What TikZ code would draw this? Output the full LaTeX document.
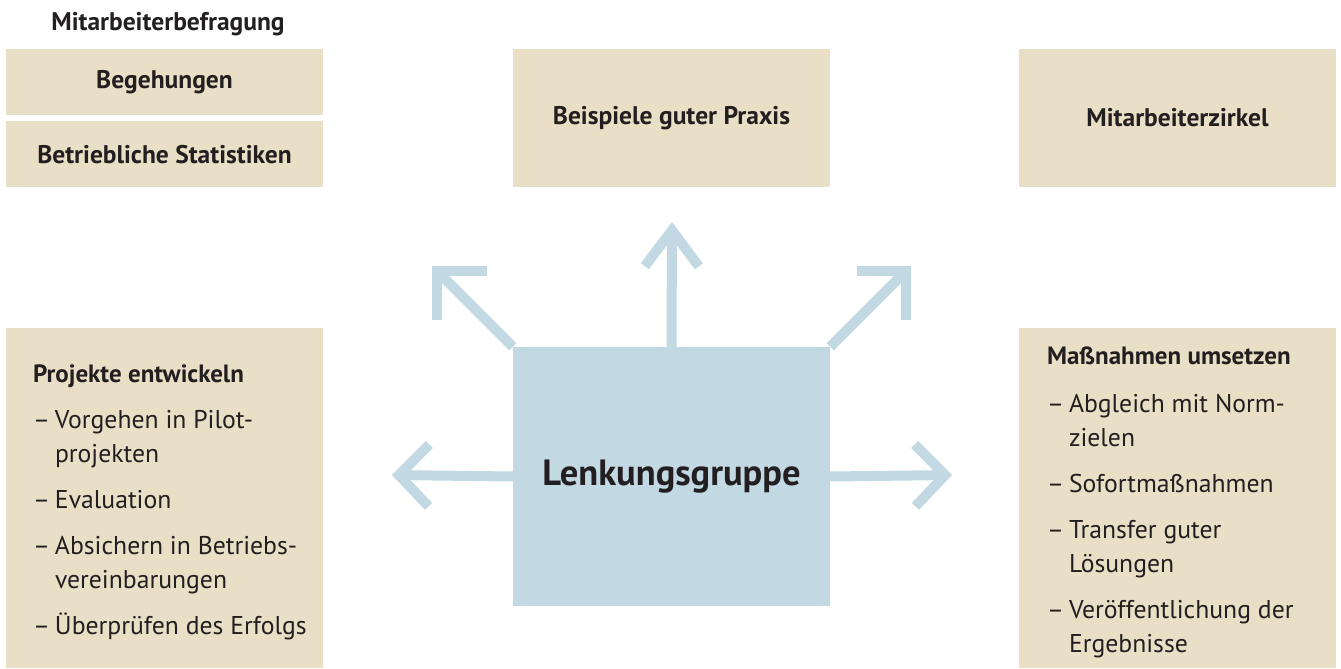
\documentclass[tikz,border=0pt]{standalone}
\usepackage{fontspec}
\setmainfont{PT Sans}
\usetikzlibrary{arrows.meta,positioning}

\definecolor{beige}{RGB}{232,223,198}
\definecolor{paleblue}{RGB}{194,217,228}
\definecolor{ink}{RGB}{35,31,32}

\newcommand{\dashitem}{\makebox[22pt][l]{\textendash}}
\newcommand{\hangin}{\hspace*{22pt}}

\begin{document}
\begin{tikzpicture}[x=1pt,y=1pt,
    box/.style={fill=beige,minimum width=317pt,inner sep=0pt,text=ink,
      font=\bfseries\fontsize{25.5}{30}\selectfont},
    listtext/.style={anchor=west,inner sep=0pt,align=left,text=ink,
      font=\fontsize{25.7}{34}\selectfont},
    spoke/.style 2 args={draw=paleblue,line width=10pt,line join=miter,
      -{Straight Barb[length=#1,width=#2]}}]

    \useasboundingbox (0,0) rectangle (1341,669);

    % top row
    \node[font=\bfseries\fontsize{25.5}{30}\selectfont,text=ink] (befr) at (168,645) {Mitarbeiterbefragung};
    \node[box,minimum height=66pt] (beg) at (164.5,587) {Begehungen};
    \node[box,minimum height=66pt] (stat) [below=6pt of beg] {Betriebliche Statistiken};
    \node[box,minimum height=138pt] (praxis) at (671.5,551) {\raisebox{6pt}{Beispiele guter Praxis}};
    \node[box,minimum height=138pt] (zirkel) at (1177.5,551) {\raisebox{2pt}{Mitarbeiterzirkel}};

    % lower row
    \node[box,minimum height=340pt] (proj) at (164.5,171) {};
    \node[box,minimum height=340pt] (mass) at (1177.5,171) {};
    \node[listtext] (projtxt) at ([xshift=27pt,yshift=-4pt]proj.west) {{\bfseries\fontsize{25}{34}\selectfont Projekte entwickeln}\\[12pt]
      \dashitem Vorgehen in Pilot-\\ \hangin projekten\\[12pt]
      \dashitem Evaluation\\[12pt]
      \dashitem Absichern in Betriebs-\\ \hangin vereinbarungen\\[12pt]
      \dashitem Überprüfen des Erfolgs};
    \node[listtext] (masstxt) at ([xshift=28pt,yshift=-4pt]mass.west) {{\bfseries\fontsize{25}{34}\selectfont Maßnahmen umsetzen}\\[14pt]
      \dashitem Abgleich mit Norm-\\ \hangin zielen\\[12pt]
      \dashitem Sofortmaßnahmen\\[12pt]
      \dashitem Transfer guter\\ \hangin Lösungen\\[12pt]
      \dashitem Veröffentlichung der\\ \hangin Ergebnisse};

    \node[fill=paleblue,minimum width=317pt,minimum height=259pt,inner sep=0pt,text=ink,
      font=\bfseries\fontsize{36.5}{40}\selectfont] (lenk) at (671.5,192.5) {Lenkungsgruppe};

    \coordinate (tipN) at (672,447);
    \coordinate (tipNW) at (432,403);
    \coordinate (tipNE) at (911,403);
    \coordinate (tipW) at (392,194);
    \coordinate (tipE) at (952,194);

    \draw[spoke={36pt}{54pt}] (lenk.north) -- (tipN);
    \draw[spoke={35pt}{70pt}] (lenk.north west) -- (tipNW);
    \draw[spoke={35pt}{70pt}] (lenk.north east) -- (tipNE);
    \draw[spoke={30pt}{62pt}] (lenk.west) -- (tipW);
    \draw[spoke={30pt}{62pt}] (lenk.east) -- (tipE);
\end{tikzpicture}
\end{document}
